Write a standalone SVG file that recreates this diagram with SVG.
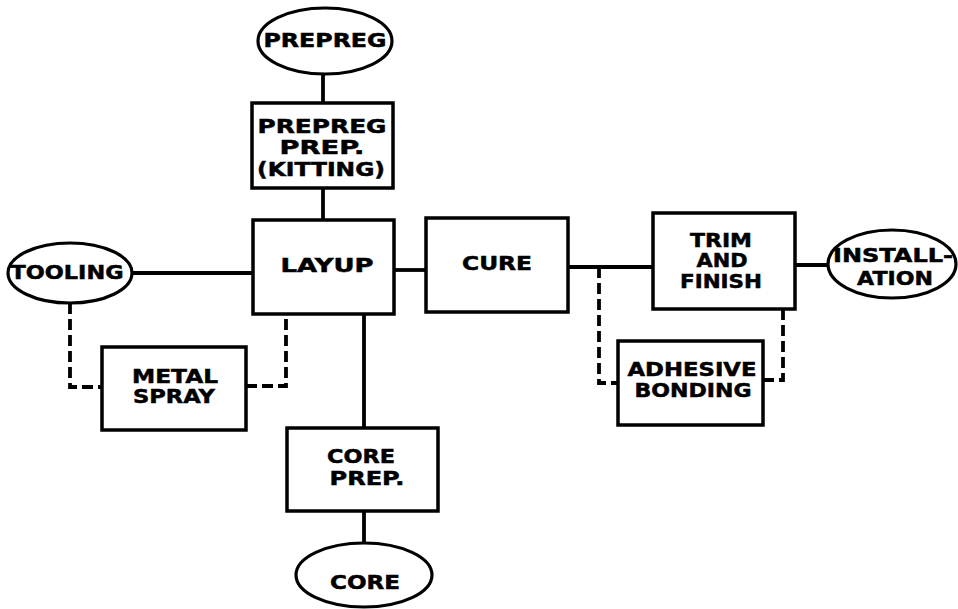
<svg xmlns="http://www.w3.org/2000/svg" width="958" height="609" viewBox="0 0 958 609">
<style>
.box{fill:#fff;stroke:#000;stroke-width:3.5}
.ell{fill:#fff;stroke:#000;stroke-width:3.2}
.ln{fill:none;stroke:#000;stroke-width:3.8}
.dl{fill:none;stroke:#000;stroke-width:3.8;stroke-dasharray:11 5}
text{font-family:"DejaVu Sans","Liberation Sans",sans-serif;font-weight:bold;font-size:19px;fill:#000;stroke:#000;stroke-width:0.5;text-anchor:middle}
</style>
<rect width="958" height="609" fill="#fff"/>
<g id="connectors">
<line class="ln" x1="323" y1="74" x2="323" y2="103"/>
<line class="ln" x1="323" y1="188" x2="323" y2="220"/>
<line class="ln" x1="132" y1="273" x2="253" y2="273"/>
<line class="ln" x1="394" y1="270" x2="426" y2="270"/>
<line class="ln" x1="568" y1="267" x2="653" y2="267"/>
<line class="ln" x1="795" y1="265" x2="829" y2="265"/>
<line class="ln" x1="364" y1="314" x2="364" y2="428"/>
<line class="ln" x1="364" y1="511" x2="364" y2="543"/>
<polyline class="dl" points="70,303 70,387 102,387"/>
<polyline class="dl" points="246,386 286,386 286,314"/>
<polyline class="dl" points="599,267 599,383 618,383"/>
<polyline class="dl" points="763,380 783,380 783,309"/>
</g>
<g id="prepreg">
<ellipse class="ell" cx="325" cy="41" rx="67" ry="33"/>
<text x="325" y="47" textLength="123" lengthAdjust="spacingAndGlyphs">PREPREG</text>
</g>
<g id="prepreg-prep">
<rect class="box" x="252" y="103" width="141" height="85"/>
<text x="322" y="133" textLength="129" lengthAdjust="spacingAndGlyphs">PREPREG</text>
<text x="322" y="154" textLength="85" lengthAdjust="spacingAndGlyphs">PREP.</text>
<text x="321" y="176" textLength="128" lengthAdjust="spacingAndGlyphs">(KITTING)</text>
</g>
<g id="layup">
<rect class="box" x="253" y="220" width="141" height="94"/>
<text x="327" y="272" textLength="93" lengthAdjust="spacingAndGlyphs">LAYUP</text>
</g>
<g id="tooling">
<ellipse class="ell" cx="70" cy="273" rx="62" ry="30"/>
<text x="67" y="279" textLength="113" lengthAdjust="spacingAndGlyphs">TOOLING</text>
</g>
<g id="metal-spray">
<rect class="box" x="102" y="347" width="144" height="83"/>
<text x="175" y="383" textLength="86" lengthAdjust="spacingAndGlyphs">METAL</text>
<text x="174" y="403" textLength="82" lengthAdjust="spacingAndGlyphs">SPRAY</text>
</g>
<g id="cure">
<rect class="box" x="426" y="218" width="142" height="94"/>
<text x="497" y="270" textLength="70" lengthAdjust="spacingAndGlyphs">CURE</text>
</g>
<g id="trim-finish">
<rect class="box" x="653" y="213" width="142" height="96"/>
<text x="721" y="247" textLength="62" lengthAdjust="spacingAndGlyphs">TRIM</text>
<text x="722" y="267" textLength="51" lengthAdjust="spacingAndGlyphs">AND</text>
<text x="721" y="288" textLength="82" lengthAdjust="spacingAndGlyphs">FINISH</text>
</g>
<g id="installation">
<ellipse class="ell" cx="892" cy="264" rx="64" ry="34"/>
<text x="893" y="262" textLength="120" lengthAdjust="spacingAndGlyphs">INSTALL-</text>
<text x="895" y="285" textLength="76" lengthAdjust="spacingAndGlyphs">ATION</text>
</g>
<g id="adhesive-bonding">
<rect class="box" x="618" y="341" width="145" height="84"/>
<text x="692" y="376" textLength="129" lengthAdjust="spacingAndGlyphs">ADHESIVE</text>
<text x="693" y="397" textLength="117" lengthAdjust="spacingAndGlyphs">BONDING</text>
</g>
<g id="core-prep">
<rect class="box" x="287" y="428" width="151" height="83"/>
<text x="361" y="463" textLength="68" lengthAdjust="spacingAndGlyphs">CORE</text>
<text x="367" y="485" textLength="75" lengthAdjust="spacingAndGlyphs">PREP.</text>
</g>
<g id="core">
<ellipse class="ell" cx="364" cy="575" rx="68" ry="32"/>
<text x="365" y="589" textLength="70" lengthAdjust="spacingAndGlyphs">CORE</text>
</g>
</svg>
